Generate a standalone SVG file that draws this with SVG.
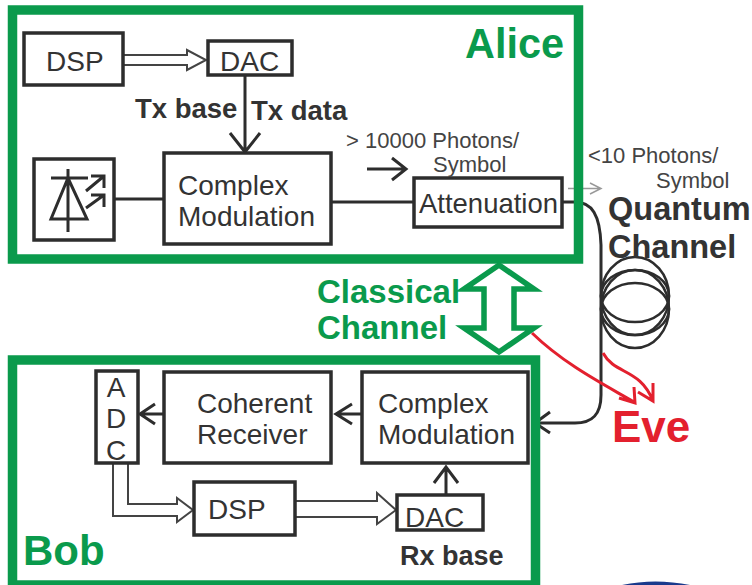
<svg xmlns="http://www.w3.org/2000/svg" width="752" height="585" viewBox="0 0 752 585">
<style>
.frame{fill:none;stroke:#0a9a4c;stroke-width:9.5}
.box{fill:#fff;stroke:#2d2d2d;stroke-width:3.5}
.ln{fill:none;stroke:#2d2d2d;stroke-width:3}
.thin{fill:none;stroke:#444;stroke-width:2}
.red{fill:none;stroke:#e3202e;stroke-width:3}
.grn{fill:#fff;stroke:#0a9a4c;stroke-width:5.5;stroke-linejoin:miter}
text{font-family:"Liberation Sans",Arial,sans-serif;fill:#333}
.t{font-size:28px}
.b{font-weight:bold}
.g{fill:#0a9a4c;font-weight:bold}
.s{font-size:22px;fill:#444}
</style>
<rect width="752" height="585" fill="#fff"/>
<path d="M622 585Q655 578 690 585Z" fill="#1a3a8c"/>
<g id="connectors">
<path class="ln" d="M114 199H164M331 202H414"/>
<path class="ln" d="M245 75V152M230 133L245 152L260 133"/>
<path class="ln" d="M367 169H405M392 158L406 169L392 180"/>
<path d="M568 188.500H600M590 183L601 188.500L590 194" fill="none" stroke="#999" stroke-width="1.500"/>
<path class="thin" d="M123 55H187V50L206 60L187 70V65H123"/>
<path class="ln" d="M562 202H575C592 202 600 215 601 245V395C601 415 592 423 575 423H536M550 412L535 423L550 433"/>
<g fill="none" stroke="#2d2d2d" stroke-width="2.500"><ellipse cx="635" cy="296" rx="34" ry="39"/><ellipse cx="635" cy="309" rx="34" ry="39"/><ellipse cx="635" cy="296" rx="34" ry="26"/><ellipse cx="635" cy="309" rx="34" ry="26"/></g>
<path class="ln" d="M164 414H140M155 404L140 414L155 424"/>
<path class="ln" d="M362 414H336M352 404L336 414L352 424"/>
<path class="ln" d="M446 495V467M434 483L446 467L458 483"/>
<path class="thin" d="M113 463V516H177V522L193 510L177 498V504H128V463"/>
<path class="thin" d="M295 501H377V493L396 510L377 524V517H295"/>
<path class="red" d="M532 333C565 365 605 385 634 402M634 387L635 403L619 398"/>
<path class="red" d="M603 353C615 375 640 368 653 401M653 383L653 401L638 392"/>
</g>
<g id="alice"><rect class="frame" x="12.500" y="10" width="566" height="249"/><text class="g" x="465" y="58" font-size="42" textLength="99" lengthAdjust="spacingAndGlyphs">Alice</text></g>
<g id="bob"><rect class="frame" x="12.500" y="360" width="523" height="225"/><text class="g" x="23" y="565" font-size="42">Bob</text></g>
<g id="dsp-a"><rect class="box" x="24" y="33" width="99" height="52"/><text class="t" x="46" y="71">DSP</text></g>
<g id="dac-a"><rect class="box" x="208" y="41" width="84" height="34"/><text class="t" x="220" y="71">DAC</text></g>
<g id="laser"><rect class="box" x="34" y="159" width="80" height="81"/>
<path class="ln" d="M51 178H88M68 169V232M51 219H87L68 178ZM86 191L104 176M86 208L104 195M91 176H104V188M91 195H104V207"/></g>
<g id="mod-a"><rect class="box" x="164" y="153" width="167" height="91"/><text class="t" x="178" y="195">Complex</text><text class="t" x="178" y="226">Modulation</text></g>
<g id="att"><rect class="box" x="414" y="178" width="148" height="49"/><text class="t" x="419" y="213" textLength="139" lengthAdjust="spacingAndGlyphs">Attenuation</text></g>
<g id="adc"><rect class="box" x="96" y="371" width="42" height="92"/><text class="t" x="116" y="397" text-anchor="middle">A</text><text class="t" x="116" y="428" text-anchor="middle">D</text><text class="t" x="116" y="460" text-anchor="middle">C</text></g>
<g id="coh"><rect class="box" x="164" y="372" width="167" height="91"/><text class="t" x="197" y="413">Coherent</text><text class="t" x="197" y="444">Receiver</text></g>
<g id="mod-b"><rect class="box" x="362" y="372" width="166" height="91"/><text class="t" x="378" y="413">Complex</text><text class="t" x="378" y="444">Modulation</text></g>
<g id="dsp-b"><rect class="box" x="194" y="482" width="101" height="53"/><text class="t" x="208" y="519">DSP</text></g>
<g id="dac-b"><rect class="box" x="397" y="495" width="86" height="35"/><text class="t" x="405" y="527">DAC</text></g>
<g id="labels">
<text class="b" x="135" y="118" font-size="27.500">Tx base</text>
<text class="b" x="251" y="120" font-size="27.500">Tx data</text>
<text class="s" x="346" y="148">&gt; 10000 Photons/</text>
<text class="s" x="433" y="172">Symbol</text>
<text class="s" x="588" y="163">&lt;10 Photons/</text>
<text class="s" x="656" y="188">Symbol</text>
<text class="b" x="608" y="220" font-size="32.500">Quantum</text>
<text class="b" x="608" y="258" font-size="32.500">Channel</text>
<text class="g" x="317" y="303" font-size="33">Classical</text>
<text class="g" x="317" y="339" font-size="33">Channel</text>
<text class="b" x="612" y="442" font-size="44" style="fill:#e3202e">Eve</text>
<text class="b" x="400" y="565" font-size="27">Rx base</text>
</g>
<g id="classical-arrow"><path class="grn" d="M499 265L534 289H514V328H534L499 352L464 328H484V289H464Z"/></g>
</svg>
